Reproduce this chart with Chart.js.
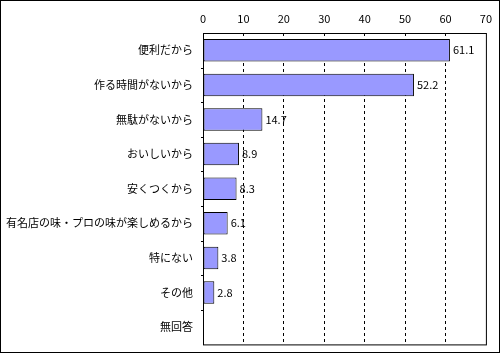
<!DOCTYPE html>
<html lang="ja">
<head>
    <meta charset="UTF-8">
    <title>理由</title>
    <style>
        body { margin: 0; background: white; }
        canvas { display: block; }
    </style>
    <script src="https://cdn.jsdelivr.net/npm/chart.js"></script>
</head>
<body>
    <canvas id="chart" width="500" height="353"></canvas>

    <script>
        const categories = ["便利だから", "作る時間がないから", "無駄がないから", "おいしいから", "安くつくから",
            "有名店の味・プロの味が楽しめるから", "特にない", "その他", "無回答"];
        const values = [61.1, 52.2, 14.7, 8.9, 8.3, 6.1, 3.8, 2.8, null];
        const xTicks = [0, 10, 20, 30, 40, 50, 60, 70];

        const FONT = "'Noto Sans CJK JP', 'DejaVu Sans', sans-serif";

        // frame, plot box, category tick marks and the numbers at the end of the bars
        const extras = {
            id: "extras",
            beforeDraw(chart) {
                const ctx = chart.ctx;
                ctx.save();
                ctx.fillStyle = "#ffffff";
                ctx.fillRect(0, 0, chart.width, chart.height);
                ctx.restore();
            },
            afterDraw(chart) {
                const ctx = chart.ctx;
                const a = chart.chartArea;
                ctx.save();
                ctx.strokeStyle = "#000";
                ctx.lineWidth = 1;
                ctx.strokeRect(a.left + 0.5, a.top + 0.5, a.right - a.left, a.bottom - a.top);
                ctx.strokeRect(0.5, 0.5, chart.width - 1, chart.height - 1);
                // small tick marks between categories, outside the left axis
                const band = (a.bottom - a.top) / categories.length;
                ctx.beginPath();
                for (let i = 1; i < categories.length; i++) {
                    const py = Math.round(a.top + band * i) + 0.5;
                    ctx.moveTo(a.left - 2, py);
                    ctx.lineTo(a.left + 1, py);
                }
                ctx.stroke();
                ctx.fillStyle = "#000";
                ctx.font = "11px " + FONT;
                ctx.textBaseline = "middle";
                ctx.textAlign = "left";
                chart.getDatasetMeta(0).data.forEach((bar, i) => {
                    if (values[i] == null) return;
                    ctx.fillText(values[i].toFixed(1), bar.x + 3, bar.y);
                });
                ctx.restore();
            }
        };

        new Chart(document.getElementById("chart"), {
            type: "bar",
            data: {
                labels: categories,
                datasets: [{
                    data: values,
                    backgroundColor: "#9999ff",
                    borderColor: "#000",
                    borderWidth: 1,
                    borderSkipped: false,
                    barPercentage: 0.65,
                    categoryPercentage: 1
                }]
            },
            options: {
                indexAxis: "y",
                responsive: false,
                animation: false,
                layout: { padding: { top: 0, left: 0, right: 13, bottom: 5 } },
                plugins: { legend: { display: false }, tooltip: { enabled: false } },
                scales: {
                    x: {
                        position: "top",
                        min: 0,
                        max: 70,
                        afterBuildTicks: s => { s.ticks = xTicks.map(v => ({ value: v })); },
                        afterFit: s => { s.height = 33; },
                        ticks: { color: "#000", font: { family: FONT, size: 11 }, padding: 8 },
                        grid: {
                            color: c => (c.tick && (c.tick.value === 0 || c.tick.value === 70)) ? "rgba(0,0,0,0)" : "#000",
                            lineWidth: 1,
                            drawTicks: false
                        },
                        border: { display: false, dash: [3, 3] }
                    },
                    y: {
                        afterFit: s => { s.width = 203; },
                        ticks: { color: "#000", font: { family: FONT, size: 11 }, padding: 2 },
                        grid: { display: false },
                        border: { display: false }
                    }
                }
            },
            plugins: [extras]
        });
    </script>
</body>
</html>
